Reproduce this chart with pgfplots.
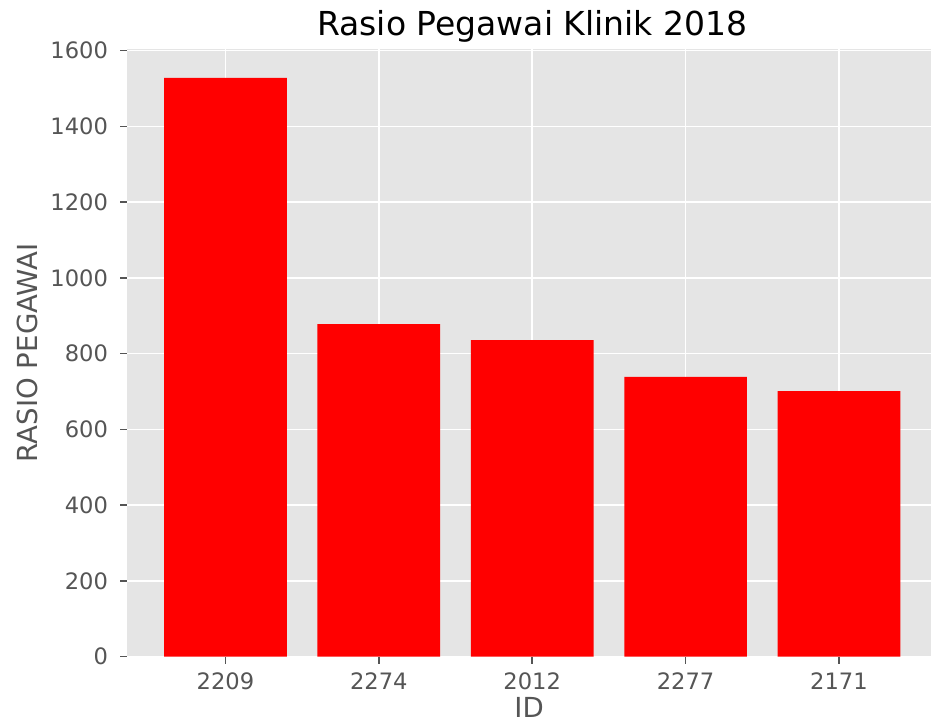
\documentclass[border=0pt]{standalone}
\usepackage{pgfplots}
\pgfplotsset{compat=1.18}
\usepackage{fontspec}
\setmainfont{DejaVu Sans}
\definecolor{bggray}{HTML}{E5E5E5}
\definecolor{tickgray}{HTML}{555555}
\begin{document}
\begin{tikzpicture}
\begin{axis}[
  scale only axis,
  width=401.85pt, height=303.95pt,
  xmin=-0.64, xmax=4.6,
  ymin=0, ymax=1605,
  axis background/.style={fill=bggray},
  axis line style={draw=none},
  xtick={0,...,4},
  xticklabels={2209,2274,2012,2277,2171},
  ytick={0,200,...,1600},
  tick pos=left,
  tick align=outside,
  major tick length=3.5pt,
  tick style={color=tickgray, line width=0.8pt},
  grid=major,
  major grid style={white, line width=0.8pt},
  ticklabel style={font=\fontsize{11.3}{13}\selectfont, text=tickgray, inner sep=0pt},
  xticklabel style={anchor=north, yshift=-4.4pt},
  yticklabel style={anchor=east, xshift=-6pt},
  /pgf/number format/assume math mode=true,
  /pgf/number format/1000 sep={},
  xlabel={ID}, ylabel={RASIO PEGAWAI},
  label style={font=\fontsize{13.8}{16}\selectfont, text=tickgray},
  xlabel style={at={(axis description cs:0.5,0)}, anchor=base, yshift=-30.6pt},
  ylabel style={at={(axis description cs:0,0.5)}, anchor=base, yshift=45pt},
  every axis title shift=0pt,
  title={Rasio Pegawai Klinik 2018},
  title style={font=\fontsize{16.5}{19}\selectfont, at={(axis description cs:0.504,1)}, anchor=base, yshift=6.5pt},
  ybar, bar width=0.8, bar shift=0pt,
]
\addplot[fill=red, draw=none] coordinates {(0,1528) (1,878) (2,836) (3,739) (4,701)};
\end{axis}
\pgfresetboundingbox
\path[use as bounding box] ([xshift=-63.65pt,yshift=-34.65pt]current axis.south west) rectangle ([yshift=24.4pt]current axis.north east);
\end{tikzpicture}
\end{document}
